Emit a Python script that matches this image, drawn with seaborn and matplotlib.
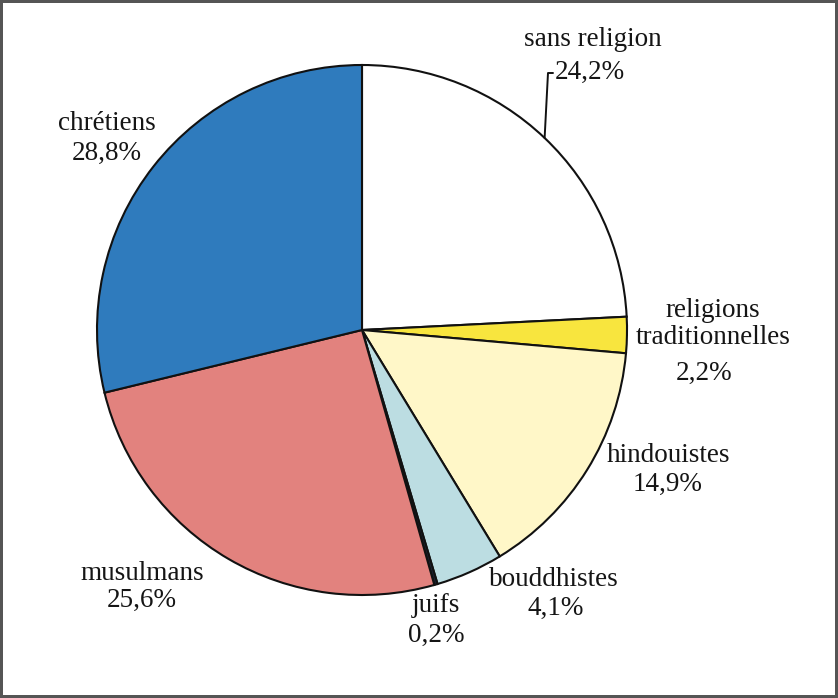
import numpy as np
import matplotlib
matplotlib.use("Agg")
import matplotlib.pyplot as plt
import seaborn as sns

# religions, clockwise from the top
labels = ["sans religion", "religions\ntraditionnelles", "hindouistes",
          "bouddhistes", "juifs", "musulmans", "chrétiens"]
values = [24.2, 2.2, 14.9, 4.1, 0.2, 25.6, 28.8]
pct_text = ["24,2%", "2,2%", "14,9%", "4,1%", "0,2%", "25,6%", "28,8%"]
colors = ["#ffffff", "#f8e53e", "#fff7c8", "#bcdde2", "#1c2233", "#e2827e", "#2f7bbd"]

sns.set_theme(style="white")
plt.rcParams["font.family"] = ["Liberation Serif", "DejaVu Serif"]

W, H = 838, 698
fig = plt.figure(figsize=(W / 100, H / 100), dpi=100, edgecolor="#555555", linewidth=3)
ax = fig.add_axes([0, 0, 1, 1])

cx, cy, R = 362, H - 330, 265
wedges, _ = ax.pie(values, colors=colors, startangle=90, counterclock=False,
                   center=(cx, cy), radius=R, frame=True,
                   wedgeprops=dict(edgecolor="#111111", linewidth=1.5))
ax.set_xlim(0, W)
ax.set_ylim(0, H)
ax.set_aspect("equal")
ax.axis("off")

# label anchors (pixel coords from top-left), layout only
pos = {
    "sans religion": (593, 40, 590, 72),
    "religions\ntraditionnelles": (713, 324, 704, 373),
    "hindouistes": (668, 455, 668, 484),
    "bouddhistes": (554, 580, 556, 608),
    "juifs": (436, 606, 436, 635),
    "musulmans": (142, 573, 142, 600),
    "chrétiens": (107, 124, 107, 153),
}
fs = 19.5
for lab, pt in zip(labels, pct_text):
    x1, y1, x2, y2 = pos[lab]
    ax.text(x1, H - y1, lab, ha="center", va="center", fontsize=fs,
            color="#151515", linespacing=1.1)
    ax.text(x2, H - y2, pt, ha="center", va="center", fontsize=fs, color="#151515")

# leader line for "sans religion"
w0 = wedges[0]
mid = np.deg2rad((w0.theta1 + w0.theta2) / 2)
sx, sy = cx + R * np.cos(mid), cy + R * np.sin(mid)
ax.plot([sx, 548, 553], [sy, H - 73, H - 73], color="#111111", lw=1.4)

fig.savefig("out.png", dpi=100, edgecolor=fig.get_edgecolor())
